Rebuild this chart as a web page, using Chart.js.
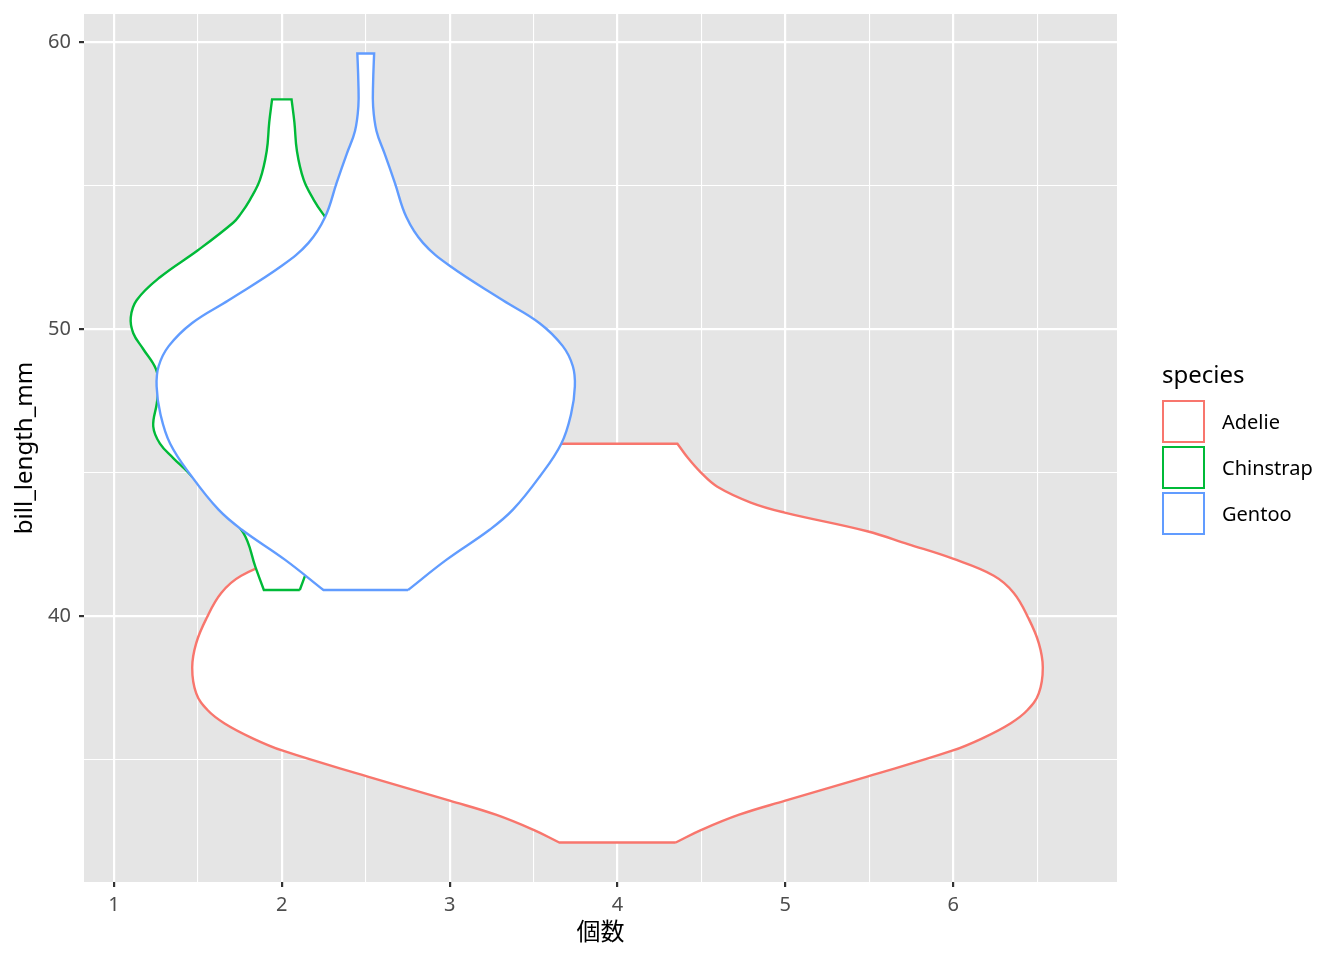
<!DOCTYPE html>
<html>
<head>
<meta charset="utf-8">
<title>bill_length_mm violin</title>
<script src="https://cdn.jsdelivr.net/npm/chart.js@4.4.1/dist/chart.umd.min.js"></script>
<style>
  html, body { margin: 0; padding: 0; background: #ffffff; }
  #wrap { position: relative; width: 1344px; height: 960px; }
  #legend {
    position: absolute; left: 1162px; top: 356px;
    font-family: 'Noto Sans', 'Noto Sans CJK JP', sans-serif; color: #000;
  }
  .lg-title { font-size: 24px; line-height: 36px; height: 44px; }
  .lg-item { display: flex; align-items: flex-start; height: 46px; }
  .lg-key { width: 43px; height: 43px; box-sizing: border-box; border: 2px solid; background: #fff; margin-right: 17px; }
  .lg-label { font-size: 20px; line-height: 43px; color: #000; }
</style>
</head>
<body>
<div id="wrap">
  <canvas id="violinChart" width="1344" height="960"></canvas>
  <div id="legend"></div>
</div>
<script>
// Species, colours and where each violin sits on the x axis
const species = ['Adelie', 'Chinstrap', 'Gentoo'];
const speciesColors = ['#F8766D', '#00BA38', '#619CFF'];
const speciesCenter = [4, 2, 2.5];

// Violin outlines: bill length and half width (x units)
const adelieY = [32.1, 32.54, 33.07, 33.56, 34.4, 35.3, 35.75, 36.25, 36.7, 37.3, 38.2, 39.05, 39.9, 40.8, 41.4, 42.0, 42.5, 42.95, 43.6, 43.95, 44.5, 45.0, 45.5, 46.0];
const adelieHalfWidth = [0.347, 0.50, 0.725, 1.0, 1.488, 1.994, 2.18, 2.341, 2.44, 2.51, 2.534, 2.51, 2.45, 2.361, 2.242, 1.994, 1.73, 1.488, 0.996, 0.794, 0.595, 0.496, 0.42, 0.357];

const chinstrapY = [40.9, 41.7, 42.9, 44.0, 45.0, 45.5, 46.0, 46.6, 47.4, 48.0, 48.6, 49.3, 49.85, 50.4, 51.0, 51.8, 52.75, 53.7, 54.0, 54.5, 55.2, 56.2, 57.2, 58.0];
const chinstrapHalfWidth = [0.107, 0.157, 0.23, 0.40, 0.558, 0.647, 0.726, 0.766, 0.745, 0.735, 0.75, 0.826, 0.885, 0.90, 0.865, 0.726, 0.498, 0.29, 0.246, 0.19, 0.13, 0.09, 0.075, 0.058];

const gentooY = [40.9, 41.95, 43.0, 43.7, 44.85, 46.0, 47.05, 48.0, 48.7, 49.4, 50.2, 51.0, 52.2, 53.0, 53.9, 55.1, 56.1, 56.9, 57.75, 58.6, 59.6];
const gentooHalfWidth = [0.252, 0.48, 0.738, 0.877, 1.036, 1.165, 1.224, 1.246, 1.234, 1.174, 1.036, 0.817, 0.5, 0.341, 0.242, 0.173, 0.113, 0.064, 0.044, 0.044, 0.05];

// Axis ticks
const xMajorTicks = [1, 2, 3, 4, 5, 6];
const xMinorTicks = [1.5, 2.5, 3.5, 4.5, 5.5, 6.5];
const yMajorTicks = [40, 50, 60];
const yMinorTicks = [35, 45, 55];

const FONT = "'Noto Sans', 'Noto Sans CJK JP', sans-serif";

// Right side going up, left side coming down, then back to the start.
// Corners are listed twice so the flat ends stay straight under the spline.
function violinPoints(center, ys, halfWidths) {
  const n = ys.length;
  const right = ys.map((y, i) => ({ x: center + halfWidths[i], y: y }));
  const left = ys.map((y, i) => ({ x: center - halfWidths[i], y: y })).reverse();
  return [...right, right[n - 1], left[0], ...left, left[n - 1], right[0]];
}

const outlines = [
  [adelieY, adelieHalfWidth],
  [chinstrapY, chinstrapHalfWidth],
  [gentooY, gentooHalfWidth]
];

const datasets = species.map((name, i) => ({
  label: name,
  data: violinPoints(speciesCenter[i], outlines[i][0], outlines[i][1]),
  indexAxis: 'y',
  borderColor: speciesColors[i],
  backgroundColor: '#FFFFFF',
  borderWidth: 2.4,
  fill: 'shape',
  tension: 0.4,
  pointRadius: 0,
  pointHoverRadius: 0,
  order: species.length - i   // Adelie at the back, Gentoo in front
}));

// Grey panel behind the grid
const panelBackground = {
  id: 'panelBackground',
  beforeDraw(chart) {
    const { ctx, chartArea } = chart;
    ctx.save();
    ctx.fillStyle = '#E5E5E5';
    ctx.fillRect(chartArea.left, chartArea.top, chartArea.right - chartArea.left, chartArea.bottom - chartArea.top);
    ctx.restore();
  }
};

function isMajor(list, v) {
  return list.some(t => Math.abs(t - v) < 1e-9);
}

const ctx = document.getElementById('violinChart').getContext('2d');
window.violinChart = new Chart(ctx, {
  type: 'line',
  data: { datasets: datasets },
  plugins: [panelBackground],
  options: {
    responsive: false,
    animation: false,
    devicePixelRatio: 1,
    layout: { padding: { left: 0, top: 14, right: 227, bottom: 0 } },
    plugins: {
      legend: { display: false },
      tooltip: { enabled: false }
    },
    events: [],
    scales: {
      x: {
        type: 'linear',
        min: 0.8214,
        max: 6.976,
        afterBuildTicks: scale => {
          scale.ticks = xMajorTicks.concat(xMinorTicks).sort((a, b) => a - b).map(v => ({ value: v }));
        },
        afterFit: scale => {
          scale.height = 78;
          scale.paddingLeft = 0;
          scale.paddingRight = 0;
        },
        border: { display: false },
        grid: {
          color: '#FFFFFF',
          lineWidth: c => isMajor(xMajorTicks, c.tick.value) ? 2.2 : 1.1,
          drawTicks: true,
          tickLength: 5,
          tickWidth: 2.2,
          tickColor: c => isMajor(xMajorTicks, c.tick.value) ? '#333333' : 'rgba(0,0,0,0)'
        },
        ticks: {
          autoSkip: false,
          maxRotation: 0,
          padding: 6,
          color: '#4D4D4D',
          font: { family: FONT, size: 20 },
          callback: v => isMajor(xMajorTicks, v) ? String(v) : ''
        },
        title: {
          display: true,
          text: '個数',
          color: '#000000',
          font: { family: FONT, size: 24 },
          padding: { top: 0, bottom: 12 }
        }
      },
      y: {
        type: 'linear',
        min: 30.725,
        max: 60.975,
        afterBuildTicks: scale => {
          scale.ticks = yMajorTicks.concat(yMinorTicks).sort((a, b) => a - b).map(v => ({ value: v }));
        },
        afterFit: scale => {
          scale.width = 84;
          scale.paddingTop = 0;
          scale.paddingBottom = 0;
        },
        border: { display: false },
        grid: {
          color: '#FFFFFF',
          lineWidth: c => isMajor(yMajorTicks, c.tick.value) ? 2.2 : 1.1,
          drawTicks: true,
          tickLength: 5,
          tickWidth: 2.2,
          tickColor: c => isMajor(yMajorTicks, c.tick.value) ? '#333333' : 'rgba(0,0,0,0)'
        },
        ticks: {
          autoSkip: false,
          padding: 8,
          color: '#4D4D4D',
          font: { family: FONT, size: 20 },
          callback: v => isMajor(yMajorTicks, v) ? String(v) : ''
        },
        title: {
          display: true,
          text: 'bill_length_mm',
          color: '#000000',
          font: { family: FONT, size: 24 },
          padding: { top: 11, bottom: 0 }
        }
      }
    }
  }
});

// Legend on the right, built from the same species lists
const legendEl = document.getElementById('legend');
const titleEl = document.createElement('div');
titleEl.className = 'lg-title';
titleEl.textContent = 'species';
legendEl.appendChild(titleEl);
species.forEach((name, i) => {
  const item = document.createElement('div');
  item.className = 'lg-item';
  const key = document.createElement('div');
  key.className = 'lg-key';
  key.style.borderColor = speciesColors[i];
  const label = document.createElement('div');
  label.className = 'lg-label';
  label.textContent = name;
  item.appendChild(key);
  item.appendChild(label);
  legendEl.appendChild(item);
});
</script>
</body>
</html>
